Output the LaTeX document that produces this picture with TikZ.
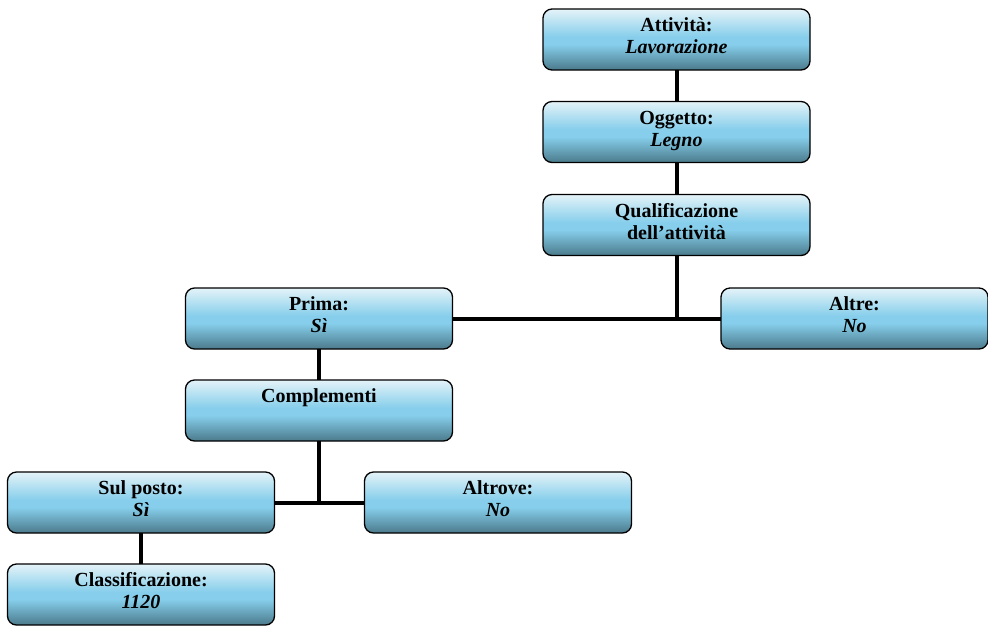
\documentclass[tikz,border=0pt]{standalone}
\usepackage{fontspec}
\setmainfont{Liberation Serif}

\definecolor{boxtop}{HTML}{E4F3F8}
\definecolor{boxmid}{HTML}{86CEEB}
\definecolor{boxbot}{HTML}{4B7A8B}

% Box fill: pale on top, sky blue just below the middle, slate at the bottom
% (the path box is mapped onto 25bp..75bp of the shading)
\pgfdeclareverticalshading{boxshade}{100bp}{%
  color(0bp)=(boxbot); color(25bp)=(boxbot);
  color(46bp)=(boxmid); color(52bp)=(boxmid);
  color(75bp)=(boxtop); color(100bp)=(boxtop)}

% Fixed-size box content: up to two centred lines, hung from the top edge
\newcommand\boxtext[2]{\vbox to 61pt{\hsize=267pt\vskip 7.4pt
  \hbox to 267pt{\hss\strut#1\hss}\nointerlineskip
  \hbox to 267pt{\hss\strut#2\hss}\vss}}

\tikzset{
  stepbox/.style={draw=black, line width=1.3pt, rounded corners=9pt,
    inner sep=0pt, outer sep=0pt, shading=boxshade,
    font=\fontsize{20}{22}\selectfont\bfseries},
  link/.style={line width=4pt, black}
}

\begin{document}
\begin{tikzpicture}[x=1pt, y=-1pt]
\useasboundingbox (0,0) rectangle (988,625);

\node[stepbox] (att)  at (676.5,39.5) {\boxtext{Attività:}{\textit{Lavorazione}}};
\node[stepbox] (ogg)  at (676.5,132)  {\boxtext{Oggetto:}{\textit{Legno}}};
\node[stepbox] (qual) at (676.5,225)  {\boxtext{Qualificazione}{dell’attività}};
\node[stepbox] (prima) at (319,318.5) {\boxtext{Prima:}{\textit{Sì}}};
\node[stepbox] (altre) at (854.5,318.5) {\boxtext{Altre:}{\textit{No}}};
\node[stepbox] (compl) at (319,410.5) {\boxtext{Complementi}{}};
\node[stepbox] (sul)  at (141,502.5)  {\boxtext{Sul posto:}{\textit{Sì}}};
\node[stepbox] (altrove) at (498,502.5) {\boxtext{Altrove:}{\textit{No}}};
\node[stepbox] (class) at (141,594.5) {\boxtext{Classificazione:}{\textit{1120}}};

% connectors between the boxes, with T-junctions below the split points
\draw[link] (att.south) -- (ogg.north);
\draw[link] (ogg.south) -- (qual.north);
\draw[link] (qual.south) -- (qual.south |- prima.east);
\draw[link] (prima.east) -- (altre.west);
\draw[link] (prima.south) -- (compl.north);
\draw[link] (compl.south) -- (compl.south |- sul.east);
\draw[link] (sul.east) -- (altrove.west);
\draw[link] (sul.south) -- (class.north);
\end{tikzpicture}
\end{document}
